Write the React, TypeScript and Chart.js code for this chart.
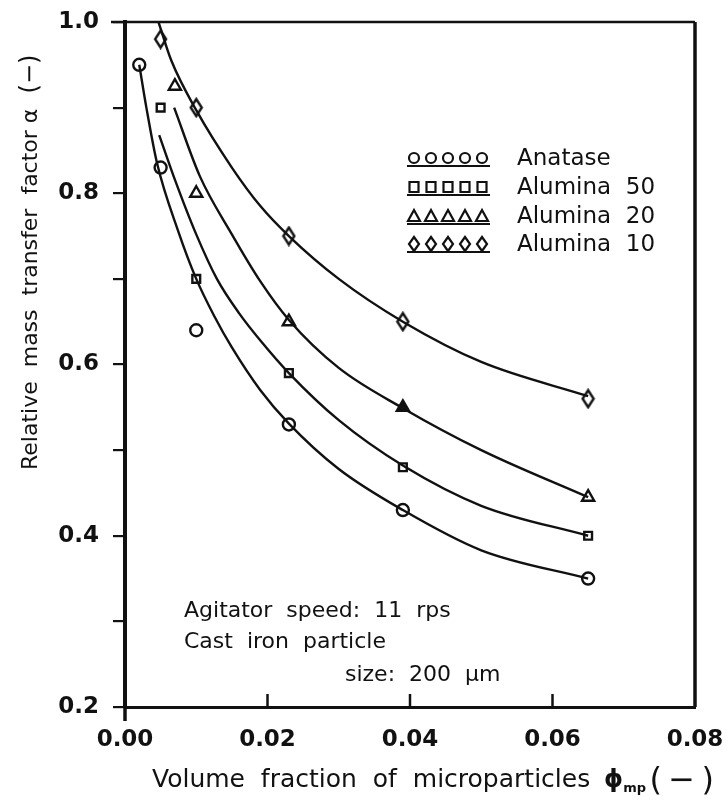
import React, { useEffect, useRef } from "react";
import { Chart, registerables } from "chart.js";

Chart.register(...registerables);

// Axis ranges
const X_MIN = 0;
const X_MAX = 0.08;
const Y_MIN = 0.2;
const Y_MAX = 1.0;
const X_TICKS = [0, 0.02, 0.04, 0.06, 0.08];

// Measured points: relative mass transfer factor vs. volume fraction
const anataseX = [0.002, 0.005, 0.01, 0.023, 0.039, 0.065];
const anataseY = [0.95, 0.83, 0.64, 0.53, 0.43, 0.35];
const alumina50X = [0.005, 0.01, 0.023, 0.039, 0.065];
const alumina50Y = [0.9, 0.7, 0.59, 0.48, 0.4];
const alumina20X = [0.007, 0.01, 0.023, 0.039, 0.065];
const alumina20Y = [0.925, 0.8, 0.65, 0.55, 0.445];
const alumina10X = [0.005, 0.01, 0.023, 0.039, 0.065];
const alumina10Y = [0.98, 0.9, 0.75, 0.65, 0.56];

// Fitted curves (sampled along each line)
const anataseFitX = [0.002, 0.003, 0.0045, 0.0075, 0.01, 0.0125, 0.015, 0.019, 0.023, 0.03, 0.039, 0.05, 0.065];
const anataseFitY = [0.95, 0.9, 0.835, 0.755, 0.7, 0.657, 0.62, 0.57, 0.531, 0.478, 0.43, 0.383, 0.35];
const alumina50FitX = [0.0048, 0.007, 0.01, 0.0129, 0.016, 0.019, 0.023, 0.03, 0.039, 0.05, 0.065];
const alumina50FitY = [0.868, 0.816, 0.752, 0.7, 0.66, 0.628, 0.59, 0.535, 0.482, 0.435, 0.4];
const alumina20FitX = [0.0069, 0.0105, 0.015, 0.019, 0.023, 0.03, 0.039, 0.05, 0.065];
const alumina20FitY = [0.9, 0.82, 0.752, 0.697, 0.652, 0.596, 0.549, 0.5, 0.445];
const alumina10FitX = [0.0047, 0.0065, 0.01, 0.015, 0.019, 0.023, 0.03, 0.039, 0.05, 0.065];
const alumina10FitY = [1.0, 0.955, 0.897, 0.83, 0.785, 0.75, 0.7, 0.65, 0.603, 0.563];

const legendLabels = ["Anatase", "Alumina  50", "Alumina  20", "Alumina  10"];

const INK = "#111";
const FONT = "'DejaVu Sans', 'Liberation Sans', sans-serif";

const pts = (xs: number[], ys: number[]) => xs.map((x, i) => ({ x, y: ys[i] }));

function tallDiamond(w: number, h: number, lw: number) {
  const c = document.createElement("canvas");
  c.width = w + lw * 2;
  c.height = h + lw * 2;
  const g = c.getContext("2d")!;
  const cx = c.width / 2;
  const cy = c.height / 2;
  g.strokeStyle = INK;
  g.lineWidth = lw;
  g.beginPath();
  g.moveTo(cx, cy - h / 2);
  g.lineTo(cx + w / 2, cy);
  g.lineTo(cx, cy + h / 2);
  g.lineTo(cx - w / 2, cy);
  g.closePath();
  g.stroke();
  return c;
}

function drawMarker(ctx: CanvasRenderingContext2D, kind: number, x: number, y: number) {
  ctx.beginPath();
  if (kind === 0) {
    ctx.arc(x, y, 5, 0, Math.PI * 2);
  } else if (kind === 1) {
    ctx.rect(x - 4.5, y - 5, 9, 10);
  } else if (kind === 2) {
    ctx.moveTo(x, y - 6);
    ctx.lineTo(x + 6, y + 5);
    ctx.lineTo(x - 6, y + 5);
    ctx.closePath();
  } else {
    ctx.moveTo(x, y - 7);
    ctx.lineTo(x + 5, y);
    ctx.lineTo(x, y + 7);
    ctx.lineTo(x - 5, y);
    ctx.closePath();
  }
  ctx.stroke();
}

const decorations = {
  id: "decorations",
  afterDraw(chart: any) {
    const { ctx, chartArea, scales } = chart;
    const { left, right, top, bottom } = chartArea;
    const xs = scales.x;
    ctx.save();
    ctx.strokeStyle = INK;
    ctx.fillStyle = INK;

    // frame: top and right edges
    ctx.lineWidth = 2.5;
    ctx.beginPath();
    ctx.moveTo(left - 14, top);
    ctx.lineTo(right, top);
    ctx.stroke();
    ctx.lineWidth = 3.5;
    ctx.beginPath();
    ctx.moveTo(right, top);
    ctx.lineTo(right, bottom);
    ctx.stroke();
    // left axis runs a little past the bottom
    ctx.beginPath();
    ctx.moveTo(left, bottom);
    ctx.lineTo(left, bottom + 14);
    ctx.stroke();

    // inward x ticks
    ctx.lineWidth = 2.5;
    X_TICKS.forEach((v) => {
      if (v === X_MIN || v === X_MAX) return;
      const px = xs.getPixelForValue(v);
      ctx.beginPath();
      ctx.moveTo(px, bottom);
      ctx.lineTo(px, bottom - 13);
      ctx.stroke();
    });

    // y-axis title (rotated)
    ctx.save();
    ctx.translate(31, 470);
    ctx.rotate(-Math.PI / 2);
    ctx.font = `22px ${FONT}`;
    ctx.textAlign = "left";
    ctx.textBaseline = "middle";
    ctx.fillText("Relative  mass  transfer  factor α", 0, 0);
    ctx.restore();
    ctx.save();
    ctx.translate(31, 74);
    ctx.rotate(-Math.PI / 2);
    ctx.font = `24px ${FONT}`;
    ctx.textAlign = "center";
    ctx.textBaseline = "middle";
    ctx.fillText("(\u2212)", 0, 0);
    ctx.restore();

    // x-axis title with subscript
    ctx.font = `25px ${FONT}`;
    ctx.textAlign = "left";
    ctx.textBaseline = "alphabetic";
    let tx = 152;
    const ty = 787;
    const main = "Volume  fraction  of  microparticles  ";
    ctx.fillText(main, tx, ty);
    tx += ctx.measureText(main).width - 2;
    ctx.font = `bold 24px ${FONT}`;
    ctx.fillText("\u03d5", tx, ty);
    tx += ctx.measureText("\u03d5").width;
    ctx.font = `bold 13px ${FONT}`;
    ctx.fillText("mp", tx, ty + 5);
    ctx.font = `32px ${FONT}`;
    ctx.textAlign = "right";
    ctx.fillText("(\u2009\u2212\u2009)", 714, ty + 3);
    ctx.textAlign = "left";

    // legend
    const rows = [158, 187, 216, 244];
    ctx.font = `23px ${FONT}`;
    ctx.textBaseline = "middle";
    rows.forEach((ry, k) => {
      ctx.lineWidth = 2.2;
      for (let i = 0; i < 5; i++) drawMarker(ctx, k, 414 + i * 17, ry);
      ctx.lineWidth = 2;
      ctx.beginPath();
      ctx.moveTo(407, ry + 8);
      ctx.lineTo(490, ry + 8);
      ctx.stroke();
      ctx.fillText(legendLabels[k], 517, ry + 1);
    });

    // operating conditions note
    ctx.font = `22px ${FONT}`;
    ctx.textBaseline = "alphabetic";
    ctx.fillText("Agitator  speed:  11  rps", 184, 617);
    ctx.fillText("Cast  iron  particle", 184, 648);
    ctx.fillText("size:  200  \u03bcm", 345, 681);

    ctx.restore();
  },
};

export default function App() {
  const canvasRef = useRef<HTMLCanvasElement | null>(null);

  useEffect(() => {
    const canvas = canvasRef.current;
    if (!canvas) return;
    const diamond = tallDiamond(11, 17, 2.4);

    const fitLine = (xs: number[], ys: number[]) => ({
      type: "line" as const,
      data: pts(xs, ys),
      showLine: true,
      borderColor: INK,
      borderWidth: 2.4,
      pointRadius: 0,
      fill: false,
      cubicInterpolationMode: "monotone" as const,
      order: 2,
    });

    const markers = (xs: number[], ys: number[], style: any, radius: number, bg: any = "rgba(0,0,0,0)") => ({
      type: "scatter" as const,
      data: pts(xs, ys),
      showLine: false,
      pointStyle: style,
      pointRadius: radius,
      pointBorderColor: INK,
      pointBorderWidth: 2.4,
      pointBackgroundColor: bg,
      order: 1,
    });

    const chart = new Chart(canvas, {
      type: "scatter",
      data: {
        datasets: [
          fitLine(anataseFitX, anataseFitY),
          fitLine(alumina50FitX, alumina50FitY),
          fitLine(alumina20FitX, alumina20FitY),
          fitLine(alumina10FitX, alumina10FitY),
          markers(anataseX, anataseY, "circle", 6),
          markers(alumina50X, alumina50Y, "rect", 5.5),
          markers(alumina20X, alumina20Y, "triangle", 7, alumina20X.map((x) => (x === 0.039 ? INK : "rgba(0,0,0,0)"))),
          markers(alumina10X, alumina10Y, diamond, 8),
        ] as any,
      },
      options: {
        animation: false,
        responsive: false,
        maintainAspectRatio: false,
        layout: { padding: { left: 0, right: 33, top: 22, bottom: 0 } },
        plugins: {
          legend: { display: false },
          tooltip: { enabled: false },
          title: { display: false },
        },
        scales: {
          x: {
            type: "linear",
            min: X_MIN,
            max: X_MAX,
            afterFit: (s: any) => {
              s.height = 96;
              s.paddingLeft = 0;
              s.paddingRight = 0;
            },
            afterBuildTicks: (s: any) => {
              s.ticks = X_TICKS.map((v) => ({ value: v }));
            },
            border: { display: true, color: INK, width: 3 },
            grid: { display: true, drawOnChartArea: false, drawTicks: false },
            ticks: {
              padding: 19,
              color: INK,
              font: { family: FONT, size: 23, weight: "bold" },
              callback: (v: any) => Number(v).toFixed(2),
            },
          },
          y: {
            type: "linear",
            min: Y_MIN,
            max: Y_MAX,
            afterFit: (s: any) => {
              s.width = 125;
              s.paddingTop = 0;
              s.paddingBottom = 0;
            },
            border: { display: true, color: INK, width: 4 },
            grid: {
              display: true,
              drawOnChartArea: false,
              drawTicks: true,
              tickLength: 12,
              color: INK,
              lineWidth: 2.2,
            },
            ticks: {
              stepSize: 0.1,
              padding: 14,
              color: INK,
              font: { family: FONT, size: 23, weight: "bold" },
              callback: (v: any) => (Math.round(Number(v) * 10) % 2 === 0 ? Number(v).toFixed(1) : ""),
            },
          },
        },
      },
      plugins: [decorations],
    });

    return () => chart.destroy();
  }, []);

  return (
    <div style={{ position: "fixed", left: 0, top: 0, width: 728, height: 803, background: "#fff" }}>
      <canvas ref={canvasRef} width={728} height={803} style={{ display: "block", width: 728, height: 803 }} />
    </div>
  );
}
